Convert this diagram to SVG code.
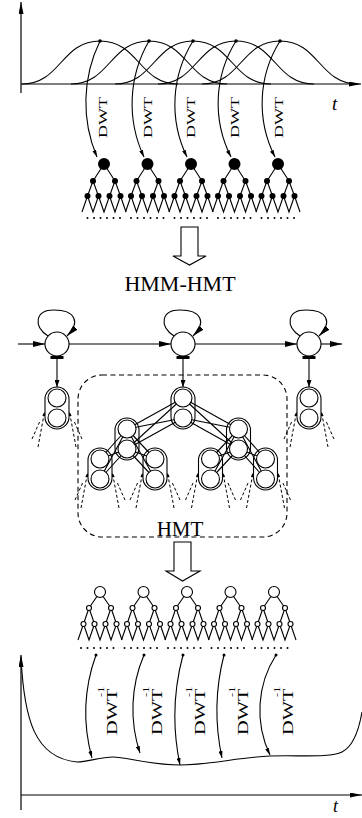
<svg xmlns="http://www.w3.org/2000/svg" width="362" height="818" viewBox="0 0 362 818">
<style>
.ln{fill:none;stroke:#000;stroke-width:1.1}
.ax{fill:none;stroke:#000;stroke-width:1.2}
.dash{fill:none;stroke:#000;stroke-width:1;stroke-dasharray:3 2.2}
.box{fill:none;stroke:#000;stroke-width:1.1;stroke-dasharray:5 3.5}
.wc{fill:#fff;stroke:#000;stroke-width:1.1}
.bc{fill:#000;stroke:none}
.lbl{font-family:"Liberation Serif","Times New Roman",serif;fill:#000}
.it{font-style:italic}
.hol{fill:#fff;stroke:#000;stroke-width:1.1}
</style>
<defs>
  <marker id="ahA" markerUnits="userSpaceOnUse" markerWidth="12" markerHeight="5" refX="12" refY="2.5" orient="auto"><path d="M0,0 L12,2.5 L0,5 z" fill="#000"/></marker>
  <marker id="ahL" markerUnits="userSpaceOnUse" markerWidth="12" markerHeight="6" refX="12" refY="3" orient="auto"><path d="M0,0 L12,3 L0,6 z" fill="#000"/></marker>
  <marker id="ahM" markerUnits="userSpaceOnUse" markerWidth="7" markerHeight="5" refX="7" refY="2.5" orient="auto"><path d="M0,0 L7,2.5 L0,5 z" fill="#000"/></marker>
  <marker id="ahS" markerUnits="userSpaceOnUse" markerWidth="7" markerHeight="4" refX="7" refY="2" orient="auto"><path d="M0,0 L7,2 L0,4 z" fill="#000"/></marker>
  <marker id="ahT" markerUnits="userSpaceOnUse" markerWidth="4" markerHeight="3" refX="4" refY="1.5" orient="auto"><path d="M0,0 L4,1.5 L0,3 z" fill="#000"/></marker>

  <!-- wavelet tree with filled coefficients, root at (0,0) -->
  <g id="treeF">
    <path class="ln" d="M0,0 L-11,17 M0,0 L11,17 M-11,17 L-16.5,32 M-11,17 L-5.5,32 M11,17 L5.5,32 M11,17 L16.5,32"/>
    <path class="ln" d="M-22,48 L-16.5,32 L-11,48 L-5.5,32 L0,48 L5.5,32 L11,48 L16.5,32 L22,48"/>
    <circle class="bc" cx="0" cy="0" r="6"/>
    <circle class="bc" cx="-11" cy="17" r="3"/><circle class="bc" cx="11" cy="17" r="3"/>
    <circle class="bc" cx="-16.5" cy="32" r="3"/><circle class="bc" cx="-5.5" cy="32" r="3"/>
    <circle class="bc" cx="5.5" cy="32" r="3"/><circle class="bc" cx="16.5" cy="32" r="3"/>
    <g class="bc"><circle cx="-16.5" cy="54" r="1"/><circle cx="-10" cy="54" r="1"/><circle cx="-3.5" cy="54" r="1"/><circle cx="3" cy="54" r="1"/><circle cx="9.5" cy="54" r="1"/><circle cx="16" cy="54" r="1"/></g>
  </g>

  <!-- wavelet tree with hollow state nodes, root at (0,0) -->
  <g id="treeH">
    <path class="ln" d="M0,0 L-11,16 M0,0 L11,16 M-11,16 L-16.5,32 M-11,16 L-5.5,32 M11,16 L5.5,32 M11,16 L16.5,32"/>
    <path class="ln" d="M-22,48 L-16.5,32 L-11,48 L-5.5,32 L0,48 L5.5,32 L11,48 L16.5,32 L22,48"/>
    <circle class="wc" cx="0" cy="0" r="5.5"/>
    <circle class="wc" cx="-11" cy="16" r="2.5"/><circle class="wc" cx="11" cy="16" r="2.5"/>
    <circle class="wc" cx="-16.5" cy="32" r="2.5"/><circle class="wc" cx="-5.5" cy="32" r="2.5"/>
    <circle class="wc" cx="5.5" cy="32" r="2.5"/><circle class="wc" cx="16.5" cy="32" r="2.5"/>
    <g class="bc"><circle cx="-19" cy="56" r="1"/><circle cx="-12.5" cy="56" r="1"/><circle cx="-6" cy="56" r="1"/><circle cx="0.5" cy="56" r="1"/><circle cx="7" cy="56" r="1"/><circle cx="13.5" cy="56" r="1"/></g>
  </g>

  <!-- two-state HMT node, top centre at (0,0) -->
  <g id="cap">
    <rect class="ln" x="-12" y="0" width="24" height="42" rx="12"/>
    <circle class="wc" cx="0" cy="11" r="9"/>
    <circle class="wc" cx="0" cy="31" r="9"/>
  </g>
  <g id="capLeaf">
    <path class="dash" d="M-19,60 L-12.5,25" marker-end="url(#ahT)"/>
    <path class="dash" d="M-25,52 L-17,34"/>
    <path class="dash" d="M19,60 L12.5,25" marker-end="url(#ahT)"/>
    <path class="dash" d="M25,52 L17,34"/>
    <use href="#cap"/>
  </g>

  <!-- HMM state with self transition and emission bar, centre at (0,0) -->
  <g id="st">
    <path class="ln" d="M-9,-8 C-24,-18 -22,-34 -3,-34 C18,-34 24,-22 10,-8" marker-end="url(#ahL)"/>
    <circle class="wc" cx="0" cy="0" r="12"/>
    <rect class="bc" x="-6.5" y="12" width="13" height="3"/>
  </g>
</defs>

<rect x="0" y="0" width="362" height="818" fill="#fff"/>

<!-- input signal: overlapping windows -->
<g id="input-plot">
  <path class="ax" d="M21,93 L21,2" marker-end="url(#ahA)"/>
  <path class="ax" d="M21,84 L361,84" marker-end="url(#ahA)"/>
  <path class="ln" d="M22,84 C61,84 61,41 100,41 C139,41 139,84 178,84"/>
  <path class="ln" d="M71,84 C110,84 110,41 149,41 C188,41 188,84 227,84"/>
  <path class="ln" d="M115,84 C154,84 154,41 193,41 C232,41 232,84 271,84"/>
  <path class="ln" d="M158,84 C197,84 197,41 236,41 C275,41 275,84 314,84"/>
  <path class="ln" d="M202,84 C241,84 241,41 280,41 C319,41 319,84 358,84"/>
  <g class="bc"><circle cx="100" cy="41" r="1.8"/><circle cx="149" cy="41" r="1.8"/><circle cx="193" cy="41" r="1.8"/><circle cx="236" cy="41" r="1.8"/><circle cx="280" cy="41" r="1.8"/></g>
  <text class="lbl it" x="332" y="110" font-size="19">t</text>
</g>

<!-- wavelet coefficient trees -->
<g id="coef-trees">
  <use href="#treeF" x="104" y="164"/>
  <use href="#treeF" x="147.5" y="164"/>
  <use href="#treeF" x="191" y="164"/>
  <use href="#treeF" x="234.5" y="164"/>
  <use href="#treeF" x="278" y="164"/>
</g>

<!-- DWT labels (set sideways, drawn tall) -->
<g id="dwt-labels" class="lbl" font-size="13.5">
  <text transform="translate(107,138) rotate(-90) scale(1.34,1)">DWT</text>
  <text transform="translate(151.5,138) rotate(-90) scale(1.34,1)">DWT</text>
  <text transform="translate(195,138) rotate(-90) scale(1.34,1)">DWT</text>
  <text transform="translate(239,138) rotate(-90) scale(1.34,1)">DWT</text>
  <text transform="translate(283,138) rotate(-90) scale(1.34,1)">DWT</text>
</g>

<!-- hollow block arrows -->
<g id="block-arrow-1"><path class="hol" d="M181,227 L198,227 L198,256 L206,256 L189.5,265 L173,256 L181,256 z"/></g>
<g id="title-hmm-hmt"><text class="lbl" x="180" y="291" font-size="22" text-anchor="middle">HMM-HMT</text></g>

<!-- HMT group outline -->
<g id="hmt-box">
  <rect class="box" x="78" y="375" width="209" height="162" rx="24"/>
  <text class="lbl" x="180" y="536" font-size="21" text-anchor="middle">HMT</text>
</g>

<!-- connectors -->
<g id="connectors">
  <!-- HMM chain -->
  <path class="ln" d="M18,344 L45,344" marker-end="url(#ahL)"/>
  <path class="ln" d="M69,344 L171,344" marker-end="url(#ahL)"/>
  <path class="ln" d="M195,344 L297,344" marker-end="url(#ahL)"/>
  <path class="ln" d="M321,344 L342,344" marker-end="url(#ahL)"/>
  <!-- emissions into the trees -->
  <path class="ln" d="M57,359 L57,387" marker-end="url(#ahM)"/>
  <path class="ln" d="M183,359 L183,387" marker-end="url(#ahM)"/>
  <path class="ln" d="M309,359 L309,387" marker-end="url(#ahM)"/>
  <!-- HMT state dependencies -->
  <path class="ln" d="M183,398 L127,429 M183,398 L127,449 M183,418 L127,429 M183,418 L127,449"/>
  <path class="ln" d="M183,398 L238.5,429 M183,398 L238.5,449 M183,418 L238.5,429 M183,418 L238.5,449"/>
  <path class="ln" d="M127,429 L100,459 M127,429 L100,479 M127,449 L100,459 M127,449 L100,479"/>
  <path class="ln" d="M127,429 L155,459 M127,429 L155,479 M127,449 L155,459 M127,449 L155,479"/>
  <path class="ln" d="M238.5,429 L210.5,459 M238.5,429 L210.5,479 M238.5,449 L210.5,459 M238.5,449 L210.5,479"/>
  <path class="ln" d="M238.5,429 L265.5,459 M238.5,429 L265.5,479 M238.5,449 L265.5,459 M238.5,449 L265.5,479"/>
  <!-- forward DWT -->
  <path class="ln" d="M100,41 A140,140 0 0 0 97,157" marker-end="url(#ahS)"/>
  <path class="ln" d="M149,41 A125,125 0 0 0 144,157" marker-end="url(#ahS)"/>
  <path class="ln" d="M193,41 A120,120 0 0 0 187,157" marker-end="url(#ahS)"/>
  <path class="ln" d="M236,41 A118,118 0 0 0 231,157" marker-end="url(#ahS)"/>
  <path class="ln" d="M280,41 A118,118 0 0 0 275,157" marker-end="url(#ahS)"/>
  <!-- inverse DWT -->
  <path class="ln" d="M96,655 A170,170 0 0 0 92,758" marker-end="url(#ahS)"/>
  <path class="ln" d="M144,655 A138,138 0 0 0 140,753" marker-end="url(#ahS)"/>
  <path class="ln" d="M183,655 A236,236 0 0 0 180,765" marker-end="url(#ahS)"/>
  <path class="ln" d="M224,655 A224,224 0 0 0 222,758" marker-end="url(#ahS)"/>
  <path class="ln" d="M276,655 A103,103 0 0 0 270,755" marker-end="url(#ahS)"/>
  <g class="bc"><circle cx="96" cy="655" r="1.5"/><circle cx="144" cy="655" r="1.5"/><circle cx="183" cy="655" r="1.5"/><circle cx="224" cy="655" r="1.5"/><circle cx="276" cy="655" r="1.5"/></g>
</g>

<!-- HMM states -->
<g id="state-1"><use href="#st" x="57" y="344"/></g>
<g id="state-2"><use href="#st" x="183" y="344"/></g>
<g id="state-3"><use href="#st" x="309" y="344"/></g>

<!-- HMT nodes -->
<g id="hmt-left"><use href="#capLeaf" x="57" y="387"/></g>
<g id="hmt-right"><use href="#capLeaf" x="309" y="387"/></g>
<g id="hmt-root"><use href="#cap" x="183" y="387"/></g>
<g id="hmt-l2a"><use href="#cap" x="127" y="418"/></g>
<g id="hmt-l2b"><use href="#cap" x="238.5" y="418"/></g>
<g id="hmt-l3a"><use href="#capLeaf" x="100" y="448"/></g>
<g id="hmt-l3b"><use href="#capLeaf" x="155" y="448"/></g>
<g id="hmt-l3c"><use href="#capLeaf" x="210.5" y="448"/></g>
<g id="hmt-l3d"><use href="#capLeaf" x="265.5" y="448"/></g>

<g id="block-arrow-2"><path class="hol" d="M174,542 L191,542 L191,571 L200,571 L182.5,581 L166,571 L174,571 z"/></g>

<!-- denoised coefficient trees -->
<g id="state-trees">
  <use href="#treeH" x="100" y="592"/>
  <use href="#treeH" x="143.5" y="592"/>
  <use href="#treeH" x="187" y="592"/>
  <use href="#treeH" x="230.5" y="592"/>
  <use href="#treeH" x="274" y="592"/>
</g>

<!-- inverse DWT labels (set sideways, drawn tall) -->
<g id="idwt-labels" class="lbl">
  <text transform="translate(117,735) rotate(-90) scale(1.36,1)" font-size="15">DWT</text>
  <text transform="translate(103.5,697) rotate(-90) scale(1.4,1)" font-size="9">-1</text>
  <text transform="translate(162,735) rotate(-90) scale(1.36,1)" font-size="15">DWT</text>
  <text transform="translate(148.5,697) rotate(-90) scale(1.4,1)" font-size="9">-1</text>
  <text transform="translate(205,735) rotate(-90) scale(1.36,1)" font-size="15">DWT</text>
  <text transform="translate(191.5,697) rotate(-90) scale(1.4,1)" font-size="9">-1</text>
  <text transform="translate(248,735) rotate(-90) scale(1.36,1)" font-size="15">DWT</text>
  <text transform="translate(234.5,697) rotate(-90) scale(1.4,1)" font-size="9">-1</text>
  <text transform="translate(293,735) rotate(-90) scale(1.36,1)" font-size="15">DWT</text>
  <text transform="translate(279.5,697) rotate(-90) scale(1.4,1)" font-size="9">-1</text>
</g>

<!-- reconstructed signal -->
<g id="output-plot">
  <path class="ax" d="M21,810 L21,655" marker-end="url(#ahA)"/>
  <path class="ax" d="M21,795 L362,795" marker-end="url(#ahA)"/>
  <path class="ln" d="M21,657 C24,720 35,758 77,762 C88,762 100,757 113,757 S150,765 180,765 S240,757 270,756 C300,755 330,758 342,752 C352,747 358,735 362,712"/>
  <text class="lbl it" x="333" y="812" font-size="18">t</text>
</g>
</svg>
